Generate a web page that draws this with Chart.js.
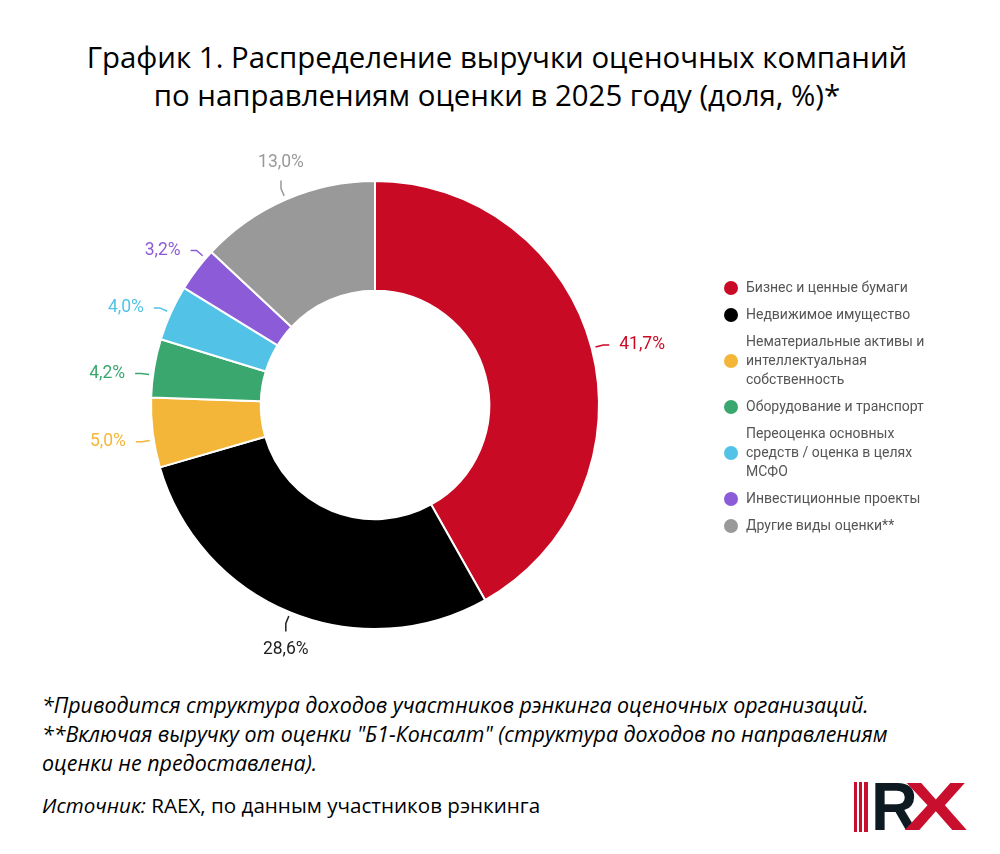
<!DOCTYPE html>
<html lang="ru">
<head>
<meta charset="utf-8">
<title>График 1</title>
<script src="https://cdn.jsdelivr.net/npm/chart.js@4.4.1/dist/chart.umd.min.js"></script>
<style>
  html, body { margin: 0; padding: 0; background: #fff; }
  body { width: 1000px; height: 854px; position: relative; overflow: hidden; font-family: "Open Sans", sans-serif; }
  #title { position: absolute; left: 0; top: 38px; width: 994px; text-align: center; font-size: 29.4px; line-height: 38px; color: #000; }
  #wrap { position: absolute; left: 0; top: 130px; width: 750px; height: 550px; }
  #legend { position: absolute; left: 722px; top: 278px; width: 240px; font-family: Roboto, sans-serif; font-size: 14px; line-height: 19px; color: #555; }
  .item { position: relative; padding-left: 24px; margin-bottom: 8px; }
  .dot { position: absolute; left: 2px; top: 50%; width: 14px; height: 14px; margin-top: -7px; border-radius: 50%; }
  #notes { position: absolute; left: 42px; top: 690px; font-size: 21.4px; line-height: 29px; font-style: italic; color: #000; }
  #source { position: absolute; left: 42px; top: 791px; font-size: 20.6px; color: #000; }
  #logo { position: absolute; left: 853px; top: 782px; width: 120px; height: 52px; }
  .bar { position: absolute; top: 0; height: 50px; background: #c8102e; }
  #logo .r, #logo .x { position: absolute; top: -12px; font-family: "Liberation Sans", sans-serif; font-weight: bold; font-size: 68px; line-height: 72px; transform-origin: left center; }
  #logo .r { left: 18px; color: #0e1a22; transform: scaleX(0.95); }
  #logo .x { left: 51px; color: #c8102e; transform: scaleX(1.4); }
</style>
</head>
<body>
<div id="title">График 1. Распределение выручки оценочных компаний<br>по направлениям оценки в 2025 году (доля, %)*</div>
<div id="wrap"><canvas id="donut"></canvas></div>
<div id="legend"></div>
<div id="notes">*Приводится структура доходов участников рэнкинга оценочных организаций.<br>**Включая выручку от оценки "Б1-Консалт" (структура доходов по направлениям<br>оценки не предоставлена).</div>
<div id="source"><i>Источник:</i> RAEX, по данным участников рэнкинга</div>
<div id="logo">
  <div class="bar" style="left:1px;width:3px"></div>
  <div class="bar" style="left:6px;width:3px"></div>
  <div class="bar" style="left:11px;width:4px"></div>
  <span class="r">R</span><span class="x">X</span>
</div>
<script>
// categories (legend text, line breaks as in the picture)
var categories = [
  ['Бизнес и ценные бумаги'],
  ['Недвижимое имущество'],
  ['Нематериальные активы и', 'интеллектуальная', 'собственность'],
  ['Оборудование и транспорт'],
  ['Переоценка основных', 'средств / оценка в целях', 'МСФО'],
  ['Инвестиционные проекты'],
  ['Другие виды оценки**']
];
// share of revenue, %
var shares = [41.7, 28.6, 5.0, 4.2, 4.0, 3.2, 13.0];
var colors = ['#c90a25', '#000000', '#f4b638', '#3aa86e', '#52c3e6', '#8c5cd8', '#999999'];
// label colour differs only for the black slice
var labelColors = ['#c90a25', '#222222', '#f4b638', '#3aa86e', '#52c3e6', '#8c5cd8', '#999999'];

// build html legend
var legend = document.getElementById('legend');
categories.forEach(function (lines, i) {
  var div = document.createElement('div');
  div.className = 'item';
  div.innerHTML = '<span class="dot" style="background:' + colors[i] + '"></span>' + lines.join('<br>');
  legend.appendChild(div);
});

// push label angles apart so neighbouring small slices don't collide
function spreadAngles(angles, minGap) {
  var a = angles.slice();
  for (var k = 0; k < 50; k++) {
    for (var i = 0; i < a.length - 1; i++) {
      var gap = a[i + 1] - a[i];
      if (gap < minGap) {
        var d = (minGap - gap) / 2;
        a[i] -= d;
        a[i + 1] += d;
      }
    }
  }
  return a;
}

//percent labels with small leader lines
var outsideLabels = {
  id: 'outsideLabels',
  afterDatasetsDraw: function (chart) {
    var c = chart.ctx;
    var meta = chart.getDatasetMeta(0);
    var props = meta.data.map(function (arc) {
      return arc.getProps(['x', 'y', 'startAngle', 'endAngle', 'outerRadius'], true);
    });
    var mids = spreadAngles(props.map(function (p) { return (p.startAngle + p.endAngle) / 2; }), 0.29);
    c.save();
    c.font = '17.5px Roboto';
    c.lineWidth = 1.5;
    props.forEach(function (p, i) {
      var mid = mids[i];
      var cos = Math.cos(mid), sin = Math.sin(mid);
      var r = p.outerRadius;
      var x1 = p.x + cos * (r + 4), y1 = p.y + sin * (r + 4);
      var x2 = p.x + cos * (r + 12), y2 = p.y + sin * (r + 12);
      var text = shares[i].toFixed(1).replace('.', ',') + '%';
      c.strokeStyle = labelColors[i];
      c.fillStyle = labelColors[i];
      c.beginPath();
      c.moveTo(x1, y1);
      c.lineTo(x2, y2);
      var tx, ty;
      if (Math.abs(cos) > 0.45) {
        var side = cos > 0 ? 1 : -1;
        c.lineTo(x2 + side * 6, y2);
        tx = x2 + side * 16;
        ty = y2;
        c.textAlign = side > 0 ? 'left' : 'right';
      } else {
        var vs = sin > 0 ? 1 : -1;
        c.lineTo(x2, y2 + vs * 8);
        tx = x2;
        ty = y2 + vs * 26;
        c.textAlign = 'center';
      }
      c.stroke();
      c.textBaseline = 'middle';
      c.fillText(text, tx, ty);
    });
    c.restore();
  }
};

new Chart(document.getElementById('donut'), {
  type: 'doughnut',
  data: {
    labels: categories.map(function (l) { return l.join(' '); }),
    datasets: [{
      data: shares,
      backgroundColor: colors,
      borderColor: '#ffffff',
      borderWidth: 2
    }]
  },
  options: {
    responsive: true,
    maintainAspectRatio: false,
    animation: false,
    cutout: '51%',
    layout: { padding: { top: 50, bottom: 50, left: 150, right: 150 } },
    plugins: {
      legend: { display: false },
      tooltip: { enabled: false }
    }
  },
  plugins: [outsideLabels]
});
</script>
</body>
</html>
